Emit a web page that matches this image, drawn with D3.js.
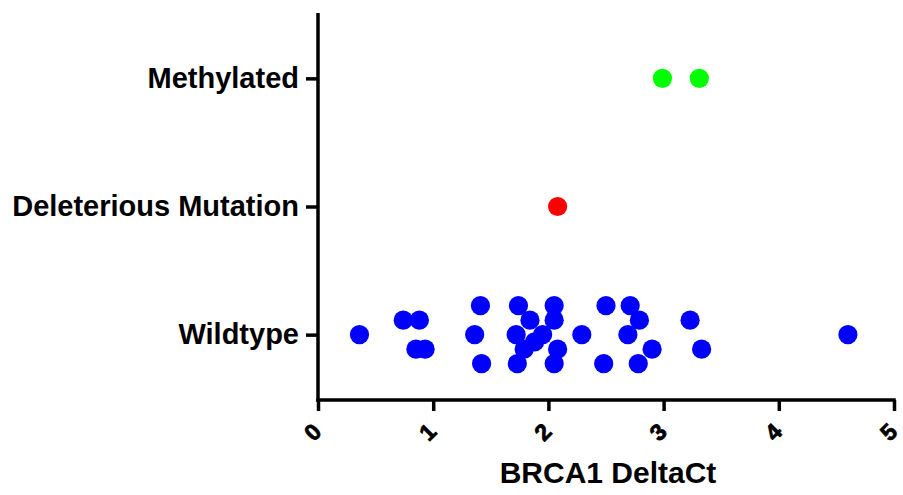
<!DOCTYPE html>
<html>
<head>
<meta charset="utf-8">
<script src="https://cdn.jsdelivr.net/npm/d3@7"></script>
<style>
  html, body { margin: 0; padding: 0; background: #fff; }
  svg text { font-family: "Liberation Sans", Arial, sans-serif; font-weight: bold; }
</style>
</head>
<body>
<div id="chart"></div>
<script>
const categories = ['Wildtype', 'Deleterious Mutation', 'Methylated'];
const categoryColors = ['#0000ff', '#ff0000', '#00ff00'];
const xTicks = [0, 1, 2, 3, 4, 5];

// BRCA1 DeltaCt values per group, with the jitter row each point sits in
const wildtypeValues = [
  1.41, 1.74, 2.05, 2.50, 2.71,
  0.74, 0.88, 1.84, 2.05, 2.79, 3.23,
  0.36, 1.36, 1.72, 1.95, 2.29, 2.69, 4.60, 1.88,
  0.85, 0.93, 1.79, 2.08, 2.90, 3.33,
  1.42, 1.73, 2.05, 2.48, 2.78
];
const wildtypeRows = [
  -2, -2, -2, -2, -2,
  -1, -1, -1, -1, -1, -1,
  0, 0, 0, 0, 0, 0, 0, 0.5,
  1, 1, 1, 1, 1, 1,
  2, 2, 2, 2, 2
];
const mutationValues = [2.08];
const mutationRows = [0];
const methylatedValues = [2.99, 3.31];
const methylatedRows = [0, 0];

const width = 903, height = 495;
const plotLeft = 318, plotRight = 894, plotTop = 13, plotBottom = 400;
const rowStep = 14.5;
const r = 9.6;

const points = [];
wildtypeValues.forEach((v, i) => points.push({ cat: categories[0], v, row: wildtypeRows[i] }));
mutationValues.forEach((v, i) => points.push({ cat: categories[1], v, row: mutationRows[i] }));
methylatedValues.forEach((v, i) => points.push({ cat: categories[2], v, row: methylatedRows[i] }));

const svg = d3.select('#chart').append('svg')
  .attr('width', width)
  .attr('height', height);

const x = d3.scaleLinear().domain([0, 5]).range([plotLeft, plotRight]);
const y = d3.scalePoint().domain(categories).range([plotBottom, plotTop]).padding(0.51);
const color = d3.scaleOrdinal().domain(categories).range(categoryColors);

// points
svg.append('g')
  .selectAll('circle')
  .data(points)
  .join('circle')
    .attr('cx', d => x(d.v))
    .attr('cy', d => y(d.cat) + d.row * rowStep)
    .attr('r', r)
    .attr('fill', d => color(d.cat));

// x axis
const gx = svg.append('g')
  .attr('transform', `translate(0,${plotBottom})`)
  .call(d3.axisBottom(x).tickValues(xTicks).tickSize(11).tickSizeOuter(0).tickFormat(d3.format('d')));
gx.select('.domain').attr('stroke', '#000').attr('stroke-width', 3.5)
  .attr('d', `M${plotLeft - 1.75},0H${plotRight + 1.75}`);
gx.selectAll('.tick line').attr('stroke', '#000').attr('stroke-width', 3.5);
gx.selectAll('.tick text')
  .attr('y', 0)
  .attr('dy', 0)
  .attr('text-anchor', 'middle')
  .attr('transform', 'translate(-6,32) rotate(-45)')
  .attr('dominant-baseline', 'central')
  .style('font-size', '23px')
  .attr('fill', '#000')
  .attr('stroke', '#000')
  .attr('stroke-width', 0.8);

// y axis
const gy = svg.append('g')
  .attr('transform', `translate(${plotLeft},0)`)
  .call(d3.axisLeft(y).tickSize(12).tickSizeOuter(0).tickPadding(7));
gy.select('.domain').attr('stroke', '#000').attr('stroke-width', 3.5)
  .attr('d', `M0,${plotTop}V${plotBottom + 1.75}`);
gy.selectAll('.tick line').attr('stroke', '#000').attr('stroke-width', 3.5);
gy.selectAll('.tick text')
  .style('font-size', '29px')
  .attr('fill', '#000');

svg.append('text')
  .attr('x', 608)
  .attr('y', 483)
  .attr('text-anchor', 'middle')
  .style('font-size', '30px')
  .text('BRCA1 DeltaCt');
</script>
</body>
</html>
